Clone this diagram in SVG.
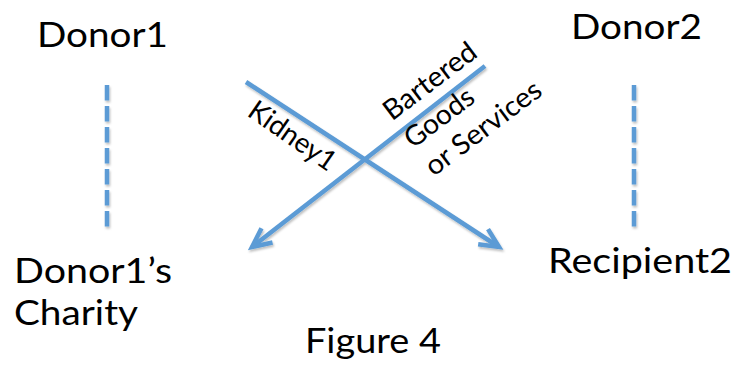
<svg xmlns="http://www.w3.org/2000/svg" width="733" height="365" viewBox="0 0 733 365">
  <style>
    .t { font-family: Lato, "Open Sans", "Liberation Sans", sans-serif; font-size: 34px; fill: #000; }
    .lbl { font-family: Lato, "Open Sans", "Liberation Sans", sans-serif; font-size: 28px; fill: #000; }
    .conn { stroke: #5B9BD5; stroke-width: 4.5; fill: none; }
    .dash { stroke-dasharray: 15.5 5.5; }
  </style>
  <defs>
    <filter id="sh" x="-10%" y="-10%" width="120%" height="130%">
      <feDropShadow dx="1" dy="2" stdDeviation="1.2" flood-color="#000" flood-opacity="0.25"/>
    </filter>
    <marker id="arr" markerUnits="userSpaceOnUse" orient="auto" refX="0" refY="0" markerWidth="40" markerHeight="40" viewBox="-30 -20 40 40" overflow="visible">
      <path d="M-19,-9 L0,0 L-19,9" stroke="#5B9BD5" stroke-width="4.5" fill="none" stroke-linejoin="miter"/>
    </marker>
  </defs>
  <rect width="733" height="365" fill="#fff"/>

  <g id="donor1"><text class="t" x="37" y="47" textLength="131" lengthAdjust="spacingAndGlyphs">Donor1</text></g>
  <g id="donor2"><text class="t" x="571" y="38.5" textLength="131" lengthAdjust="spacingAndGlyphs">Donor2</text></g>
  <g id="charity">
    <text class="t" x="14" y="283" textLength="158" lengthAdjust="spacingAndGlyphs">Donor1’s</text>
    <text class="t" x="14" y="325" textLength="124" lengthAdjust="spacingAndGlyphs">Charity</text>
  </g>
  <g id="recipient2"><text class="t" x="548" y="273" textLength="184" lengthAdjust="spacingAndGlyphs">Recipient2</text></g>
  <g id="caption"><text class="t" x="305" y="353" textLength="136" lengthAdjust="spacingAndGlyphs">Figure 4</text></g>

  <g id="connectors" filter="url(#sh)">
    <line class="conn dash" x1="107" y1="85" x2="107" y2="227"/>
    <line class="conn dash" x1="634" y1="85" x2="634" y2="227"/>
    <line class="conn" x1="246" y1="82" x2="499" y2="247" marker-end="url(#arr)"/>
    <line class="conn" x1="485" y1="66" x2="252" y2="247" marker-end="url(#arr)"/>
  </g>
  <g id="labels">
    <text class="lbl" transform="translate(246,115) rotate(34.8)" textLength="100" lengthAdjust="spacingAndGlyphs">Kidney1</text>
    <g transform="translate(392,121.5) rotate(-37)">
      <text class="lbl" x="0" y="0" textLength="109" lengthAdjust="spacingAndGlyphs">Bartered</text>
      <text class="lbl" x="0" y="34.7" textLength="80" lengthAdjust="spacingAndGlyphs">Goods</text>
      <text class="lbl" x="0" y="69.4" textLength="138" lengthAdjust="spacingAndGlyphs">or Services</text>
    </g>
  </g>
</svg>
